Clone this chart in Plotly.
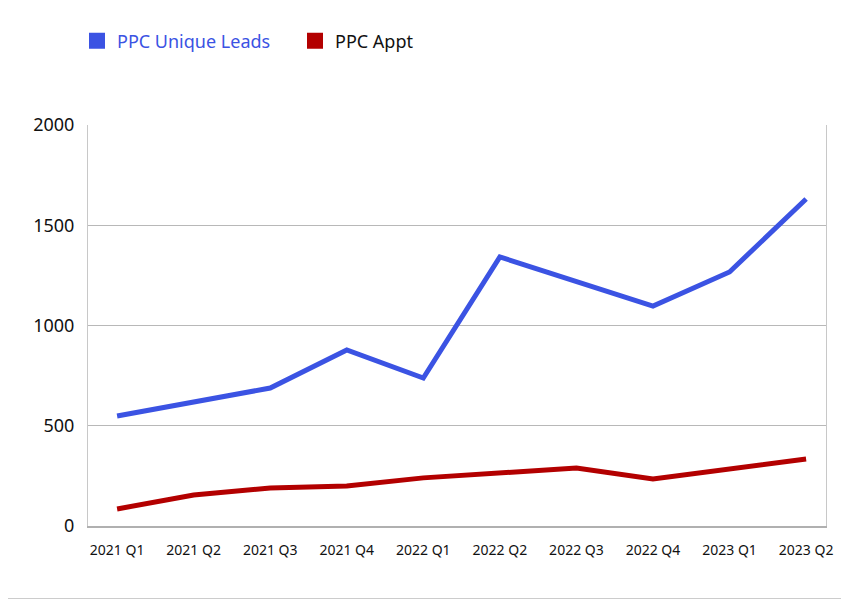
import plotly.graph_objects as go

quarters = ["2021 Q1", "2021 Q2", "2021 Q3", "2021 Q4", "2022 Q1",
            "2022 Q2", "2022 Q3", "2022 Q4", "2023 Q1", "2023 Q2"]
unique_leads = [549, 620, 688, 878, 738, 1342, 1220, 1097, 1267, 1631]
appt = [85, 155, 190, 200, 240, 265, 289, 234, 284, 334]

BLUE = "#3b53e3"
RED = "#b30000"
FONT = "Noto Sans"

# page body has an 8px default margin, so the figure is offset by 8px
W, H = 841, 592
ML, MR, MT, MB = 80, 23, 117, 74
PW, PH = W - ML - MR, H - MT - MB

fig = go.Figure()
fig.add_trace(go.Scatter(x=quarters, y=unique_leads, mode="lines",
                         line=dict(color=BLUE, width=5), showlegend=False,
                         name="PPC Unique Leads"))
fig.add_trace(go.Scatter(x=quarters, y=appt, mode="lines",
                         line=dict(color=RED, width=5), showlegend=False,
                         name="PPC Appt"))
# legend entries with square symbols
fig.add_trace(go.Scatter(x=[None], y=[None], mode="markers",
                         marker=dict(symbol="square", size=16, color=BLUE),
                         name=f"<span style='color:{BLUE}'>PPC Unique Leads</span>"))
fig.add_trace(go.Scatter(x=[None], y=[None], mode="markers",
                         marker=dict(symbol="square", size=16, color=RED),
                         name="PPC Appt"))

fig.update_layout(
    width=W, height=H,
    margin=dict(l=ML, r=MR, t=MT, b=MB, autoexpand=False),
    paper_bgcolor="white", plot_bgcolor="white",
    font=dict(family=FONT, color="#111111"),
    legend=dict(orientation="h", x=-0.0149, y=1.2095, xanchor="left", yanchor="middle",
                font=dict(size=18, family=FONT, color="#111111"),
                entrywidth=173, entrywidthmode="pixels",
                itemwidth=30, tracegroupgap=0),
    xaxis=dict(categoryorder="array", categoryarray=quarters,
               range=[-0.38, 9.26], showgrid=False,
               showline=True, linecolor="#b0b0b0", linewidth=2,
               ticks="", tickfont=dict(size=14, family=FONT, color="#111111"),
               ticklabelstandoff=10, fixedrange=True),
    yaxis=dict(range=[0, 2000], tickvals=[0, 500, 1000, 1500, 2000],
               showgrid=True, gridcolor="#b8b8b8", gridwidth=1,
               showline=True, linecolor="#c8c8c8", linewidth=1, mirror=True,
               zeroline=False, ticks="",
               tickfont=dict(size=18, family=FONT, color="#111111"),
               ticklabelstandoff=9),
    shapes=[
        dict(type="line", xref="paper", yref="paper",
             x0=(W - 1.5 - ML) / PW, x1=(W - 1.5 - ML) / PW,
             y0=-(MB - 0.5) / PH, y1=(PH + MT) / PH,
             line=dict(color="#cccccc", width=1), layer="below"),
        dict(type="line", xref="paper", yref="paper",
             x0=-ML / PW, x1=(W - 1.5 - ML) / PW,
             y0=-(MB - 1.5) / PH, y1=-(MB - 1.5) / PH,
             line=dict(color="#cccccc", width=1), layer="below"),
    ],
    hovermode=False,
)

fig.write_html("out.html")
